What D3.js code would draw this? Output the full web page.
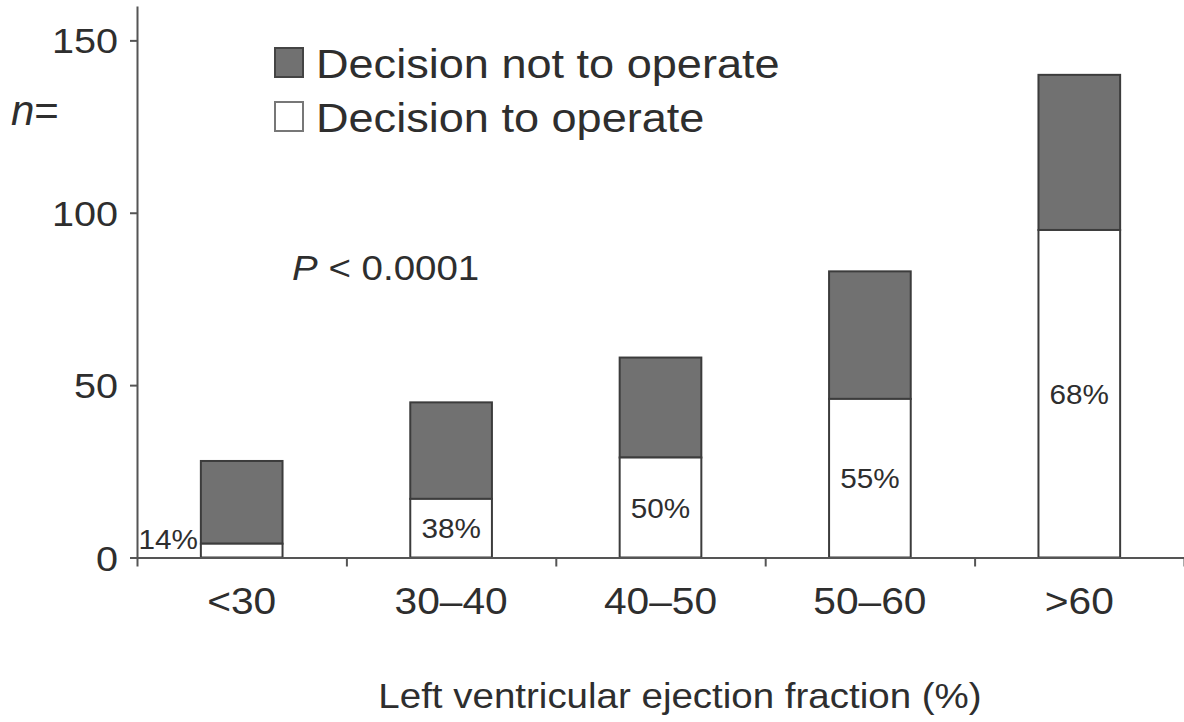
<!DOCTYPE html>
<html>
<head>
<meta charset="utf-8">
<script src="https://cdn.jsdelivr.net/npm/d3@7"></script>
<style>
  html, body { margin: 0; padding: 0; background: #fff; }
  svg { display: block; }
  text { font-family: "Liberation Sans", Arial, Helvetica, sans-serif; fill: #2e2e2e; }
</style>
</head>
<body>
<svg id="chart" width="1184" height="722"></svg>
<script>
// data
var categories = ["<30", "30\u201340", "40\u201350", "50\u201360", ">60"];
var operate = [4, 17, 29, 46, 95];        // decision to operate (white)
var notOperate = [24, 28, 29, 37, 45];    // decision not to operate (grey)
var percents = ["14%", "38%", "50%", "55%", "68%"];
var seriesNames = ["Decision not to operate", "Decision to operate"];
var yTicks = [0, 50, 100, 150];

var svg = d3.select("#chart"),
    width = +svg.attr("width"),
    height = +svg.attr("height");

// note: "top" is taken by window.top, so use other names
var plotLeft = 137, plotRight = 1184, plotTop = 5.9, plotBottom = 557.5;
var stretch = 1.1; // the figure's text is a little wide
var ink = "#3c3c3c", grey = "#717171";

var x = d3.scaleBand().domain(categories).range([plotLeft, plotRight]);
var bounds = d3.scaleLinear().domain([0, categories.length]).range([plotLeft, plotRight]);
var y = d3.scaleLinear().domain([0, 160]).range([plotBottom, plotTop]);

var bw = x.bandwidth() * 0.39;
function barX(c) { return x(c) + x.bandwidth() * 0.305; }

function label(g, s, px, py, size, anchor) {
  return g.append("text")
    .attr("transform", "translate(" + px + "," + py + ") scale(" + stretch + ",1)")
    .attr("text-anchor", anchor || "start")
    .style("font-size", size + "px")
    .text(s);
}

// bars
var data = categories.map(function(c, i) {
  return { cat: c, op: operate[i], not: notOperate[i], pct: percents[i] };
});

var bars = svg.append("g").attr("class", "bars");
bars.selectAll("rect.not")
  .data(data)
  .enter().append("rect")
  .attr("class", "not")
  .attr("x", function(d) { return barX(d.cat); })
  .attr("width", bw)
  .attr("y", function(d) { return y(d.op + d.not); })
  .attr("height", function(d) { return y(d.op) - y(d.op + d.not); })
  .attr("fill", grey)
  .attr("stroke", ink)
  .attr("stroke-width", 2);

bars.selectAll("rect.op")
  .data(data)
  .enter().append("rect")
  .attr("class", "op")
  .attr("x", function(d) { return barX(d.cat); })
  .attr("width", bw)
  .attr("y", function(d) { return y(d.op); })
  .attr("height", function(d) { return y(0) - y(d.op); })
  .attr("fill", "#fff")
  .attr("stroke", ink)
  .attr("stroke-width", 2);

// percent labels: inside the white part, or beside the bar if it is too short
var pctG = svg.append("g");
data.forEach(function(d) {
  var h = y(0) - y(d.op);
  if (h < 30) {
    label(pctG, d.pct, barX(d.cat) - 3, y(0) - 8.5, 27, "end");
  } else {
    label(pctG, d.pct, x(d.cat) + x.bandwidth() / 2, y(d.op / 2) + 10, 27, "middle");
  }
});

// y axis
var yAxis = svg.append("g")
  .attr("transform", "translate(" + plotLeft + ",0)")
  .call(d3.axisLeft(y).tickValues(yTicks).tickSize(7).tickSizeOuter(0).tickFormat(""));
yAxis.selectAll("path, line").attr("stroke", "#555").attr("stroke-width", 2);
yTicks.forEach(function(t) {
  label(svg, t, 118, y(t) + 13, 36, "end");
});

// x axis: ticks at the band edges
var xAxis = svg.append("g")
  .attr("transform", "translate(0," + plotBottom + ")")
  .call(d3.axisBottom(bounds).tickValues(d3.range(categories.length + 1)).tickSize(9).tickSizeOuter(0).tickFormat(""));
xAxis.selectAll("path, line").attr("stroke", "#555").attr("stroke-width", 2);
categories.forEach(function(c) {
  label(svg, c, x(c) + x.bandwidth() / 2, 614, 37, "middle");
});

label(svg, "Left ventricular ejection fraction (%)", 680, 708, 35, "middle");

// n= on the y axis
svg.append("text")
  .attr("x", 11).attr("y", 125)
  .style("font-size", "42px")
  .html('<tspan font-style="italic">n</tspan>=');

// legend
var legend = svg.append("g");
seriesNames.forEach(function(s, i) {
  legend.append("rect")
    .attr("x", 275).attr("y", 48 + i * 54)
    .attr("width", 28).attr("height", 29)
    .attr("fill", i === 0 ? grey : "#fff")
    .attr("stroke", i === 0 ? "#444" : "#777")
    .attr("stroke-width", 2);
  label(legend, s, 316, 78 + i * 54, 41, "start");
});

// significance
var p = label(svg, "", 292, 280, 35, "start");
p.append("tspan").style("font-style", "italic").text("P");
p.append("tspan").text(" < 0.0001");
</script>
</body>
</html>
